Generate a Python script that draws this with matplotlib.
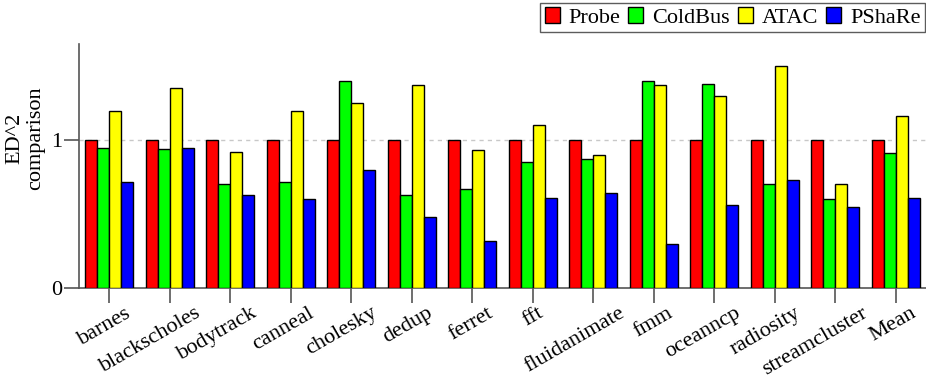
import matplotlib
matplotlib.use("Agg")
import matplotlib.pyplot as plt
import matplotlib.transforms as mtransforms
from matplotlib.patches import Patch
import numpy as np

plt.rcParams['font.family'] = ['Liberation Serif', 'DejaVu Serif']

categories = ["barnes", "blackscholes", "bodytrack", "canneal", "cholesky", "dedup",
              "ferret", "fft", "fluidanimate", "fmm", "oceanncp", "radiosity",
              "streamcluster", "Mean"]
probe   = [1.00, 1.00, 1.00, 1.00, 1.00, 1.00, 1.00, 1.00, 1.00, 1.00, 1.00, 1.00, 1.00, 1.00]
coldbus = [0.95, 0.94, 0.70, 0.72, 1.40, 0.63, 0.67, 0.85, 0.87, 1.40, 1.38, 0.70, 0.60, 0.91]
atac    = [1.20, 1.35, 0.92, 1.20, 1.25, 1.37, 0.93, 1.10, 0.90, 1.37, 1.30, 1.50, 0.70, 1.16]
pshare  = [0.72, 0.95, 0.63, 0.60, 0.80, 0.48, 0.32, 0.61, 0.64, 0.30, 0.56, 0.73, 0.55, 0.61]
series_names = ["Probe", "ColdBus", "ATAC", "PShaRe"]
colors = ["#ff0000", "#00ff00", "#ffff00", "#0000ff"]

FS = 16
W, H = 926, 378
fig = plt.figure(figsize=(W / 100, H / 100), dpi=100)
ax = fig.add_axes([79 / W, 1 - 288 / H, (926 - 79) / W, (288 - 44) / H])

x = np.arange(len(categories))
bw = 0.2
for k, (vals, c) in enumerate(zip([probe, coldbus, atac, pshare], colors)):
    ax.bar(x + (k - 1.5) * bw, vals, bw, color=c, edgecolor="black", linewidth=1.0, zorder=3)

ax.set_xlim(-0.5, len(categories) - 0.5)
ax.set_ylim(0, 1.65)
ax.set_yticks([0, 1])
ax.set_yticklabels(["0", "1"], fontsize=FS)
ax.axhline(1, color="#c8c8c8", linestyle=(0, (3, 3)), linewidth=1.0, zorder=1)

for s in ["top", "right"]:
    ax.spines[s].set_visible(False)
for s in ["left", "bottom"]:
    ax.spines[s].set_color("#555555")
    ax.spines[s].set_linewidth(1.2)

ax.set_xticks(x)
ax.set_xticklabels([])
ax.tick_params(axis="x", direction="out", length=10.5, width=1.2, color="#555555")
ax.tick_params(axis="y", direction="out", length=11, width=1.2, color="#555555", pad=1)

# rotated category labels
YOFF = -0.155
base = mtransforms.blended_transform_factory(ax.transData, ax.transAxes)
texts = []
for i, name in enumerate(categories):
    t = ax.text(i, 0, name, rotation=30, ha="center", va="top", fontsize=FS,
                transform=base + mtransforms.ScaledTranslation(0, YOFF, fig.dpi_scale_trans),
                clip_on=False)
    texts.append(t)
fig.canvas.draw()
renderer = fig.canvas.get_renderer()
for t in texts:
    wpx = t.get_window_extent(renderer).width
    dx = -0.3 * max(0.0, wpx - 45) / 100.0
    t.set_transform(base + mtransforms.ScaledTranslation(dx, YOFF, fig.dpi_scale_trans))

fig.text(25 / W, 1 - 138 / H, "ED^2\ncomparison", rotation=90, ha="center", va="center",
         fontsize=FS, multialignment="center", linespacing=1.1)

handles = [Patch(facecolor=c, edgecolor="black", linewidth=1.0) for c in colors]
leg = fig.legend(handles, series_names, loc="upper right", bbox_to_anchor=(925 / W, 1 - 3 / H),
                 ncol=4, frameon=True, fancybox=False, fontsize=FS, handlelength=0.68,
                 handleheight=0.68, handletextpad=0.4, columnspacing=0.35, borderpad=0.2,
                 borderaxespad=0)
leg.get_frame().set_edgecolor("#333333")
leg.get_frame().set_linewidth(1.0)

fig.savefig("out.png", dpi=100)
